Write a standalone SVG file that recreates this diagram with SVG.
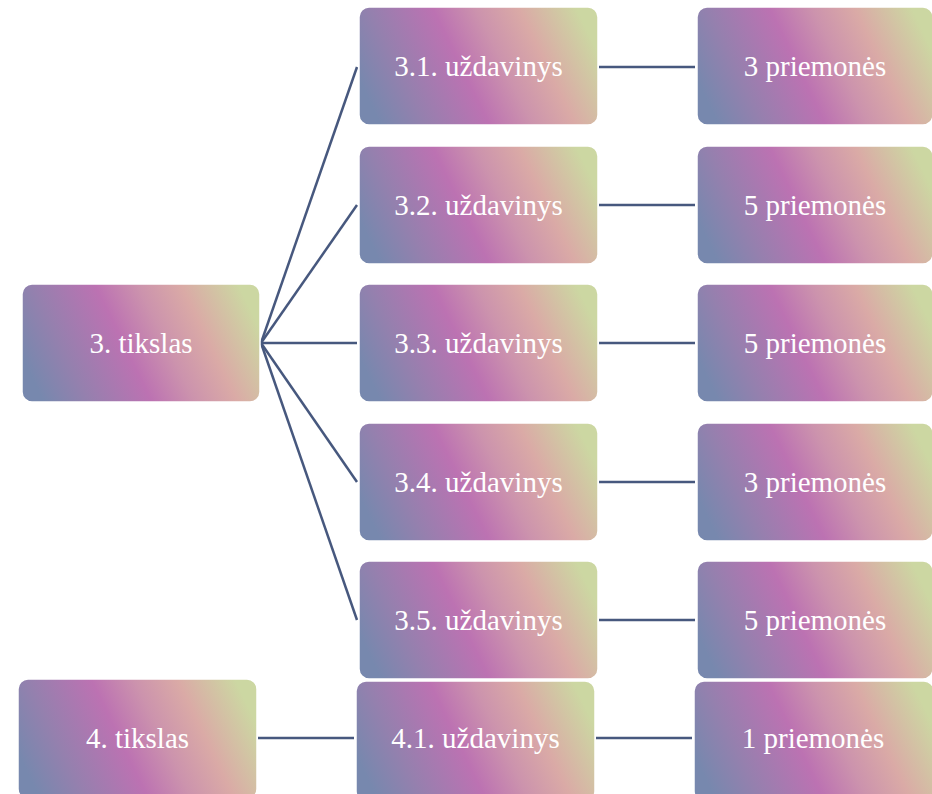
<svg xmlns="http://www.w3.org/2000/svg" width="932" height="794" viewBox="0 0 932 794">
<defs>
<linearGradient id="g" x1="0" y1="0.62" x2="1" y2="0.38">
<stop offset="0" stop-color="#7788ae"/>
<stop offset="0.18" stop-color="#9580ae"/>
<stop offset="0.43" stop-color="#bc72b2"/>
<stop offset="0.6" stop-color="#cc93ad"/>
<stop offset="0.77" stop-color="#daaaa6"/>
<stop offset="1" stop-color="#ccd7a2"/>
</linearGradient>
</defs>
<style>
.box{fill:url(#g);stroke:#ffffff;stroke-width:1.5}
.t{font-family:"Liberation Serif","Times New Roman",serif;font-size:29px;fill:#ffffff;text-anchor:middle}
.c{stroke:#47587e;stroke-width:2.5;fill:none}
</style>
<rect width="932" height="794" fill="#ffffff"/>
<g id="connectors">
<line class="c" x1="261" y1="343" x2="357" y2="67"/>
<line class="c" x1="261" y1="343" x2="357" y2="205"/>
<line class="c" x1="261" y1="343" x2="357" y2="343"/>
<line class="c" x1="261" y1="343" x2="357" y2="482"/>
<line class="c" x1="261" y1="343" x2="357" y2="620"/>
<line class="c" x1="599" y1="67" x2="695" y2="67"/>
<line class="c" x1="599" y1="205" x2="695" y2="205"/>
<line class="c" x1="599" y1="343" x2="695" y2="343"/>
<line class="c" x1="599" y1="482" x2="695" y2="482"/>
<line class="c" x1="599" y1="620" x2="695" y2="620"/>
<line class="c" x1="258" y1="738" x2="354" y2="738"/>
<line class="c" x1="596" y1="738" x2="692" y2="738"/>
</g>
<g id="n3"><rect class="box" x="22" y="284" width="238" height="118" rx="10"/><text class="t" x="141" y="353">3. tikslas</text></g>
<g id="n31"><rect class="box" x="359" y="7" width="239" height="118" rx="10"/><text class="t" x="478.5" y="76">3.1. uždavinys</text></g>
<g id="n32"><rect class="box" x="359" y="146" width="239" height="118" rx="10"/><text class="t" x="478.5" y="215">3.2. uždavinys</text></g>
<g id="n33"><rect class="box" x="359" y="284" width="239" height="118" rx="10"/><text class="t" x="478.5" y="353">3.3. uždavinys</text></g>
<g id="n34"><rect class="box" x="359" y="423" width="239" height="118" rx="10"/><text class="t" x="478.5" y="492">3.4. uždavinys</text></g>
<g id="n35"><rect class="box" x="359" y="561" width="239" height="118" rx="10"/><text class="t" x="478.5" y="630">3.5. uždavinys</text></g>
<g id="p31"><rect class="box" x="697" y="7" width="236" height="118" rx="10"/><text class="t" x="815" y="76">3 priemonės</text></g>
<g id="p32"><rect class="box" x="697" y="146" width="236" height="118" rx="10"/><text class="t" x="815" y="215">5 priemonės</text></g>
<g id="p33"><rect class="box" x="697" y="284" width="236" height="118" rx="10"/><text class="t" x="815" y="353">5 priemonės</text></g>
<g id="p34"><rect class="box" x="697" y="423" width="236" height="118" rx="10"/><text class="t" x="815" y="492">3 priemonės</text></g>
<g id="p35"><rect class="box" x="697" y="561" width="236" height="118" rx="10"/><text class="t" x="815" y="630">5 priemonės</text></g>
<g id="n4"><rect class="box" x="18" y="679" width="239" height="120" rx="10"/><text class="t" x="137.5" y="748">4. tikslas</text></g>
<g id="n41"><rect class="box" x="356" y="681" width="239" height="120" rx="10"/><text class="t" x="475.5" y="748">4.1. uždavinys</text></g>
<g id="p41"><rect class="box" x="694" y="681" width="240" height="120" rx="10"/><text class="t" x="813" y="748">1 priemonės</text></g>
</svg>
